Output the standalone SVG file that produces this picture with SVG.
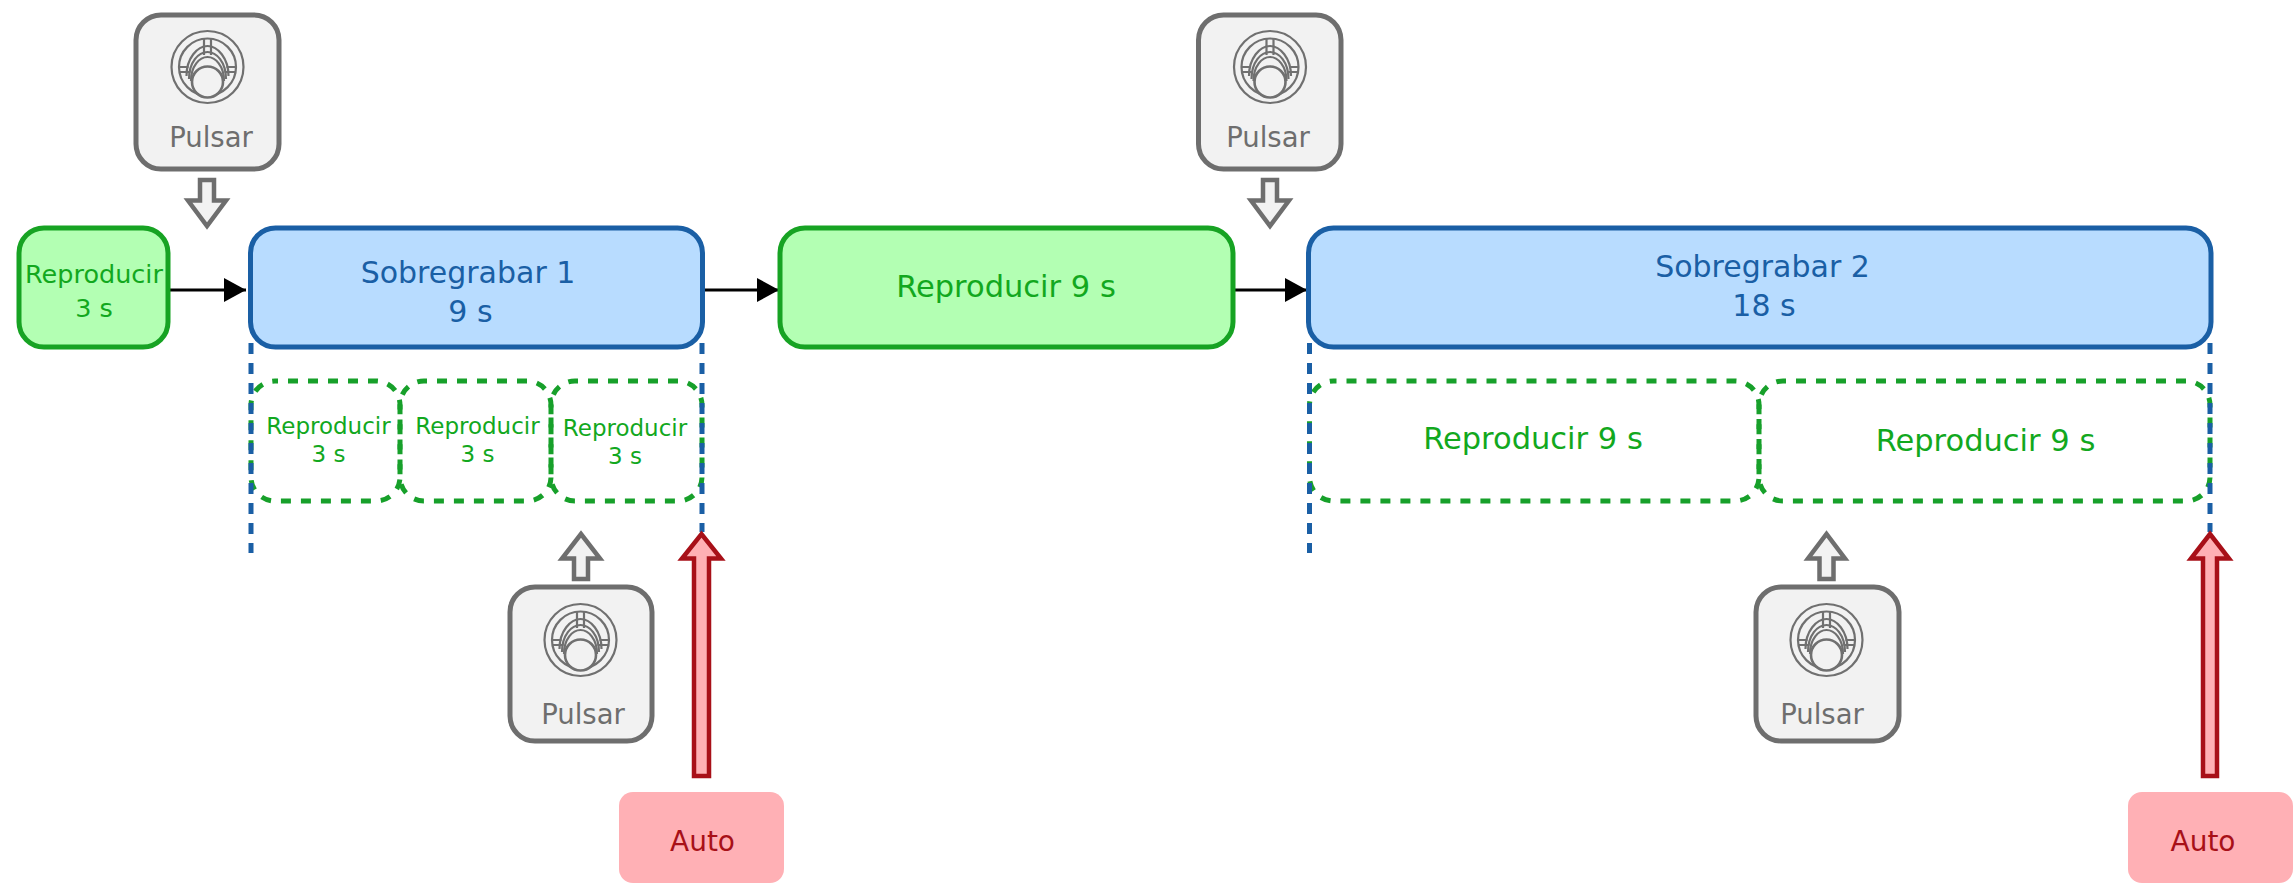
<svg xmlns="http://www.w3.org/2000/svg" width="2294" height="883" viewBox="0 0 2294 883">
<style>
text{font-family:"DejaVu Sans","Liberation Sans",sans-serif;text-anchor:middle}
.g{fill:#12a81e}.b{fill:#1a5fa5}
.pbox{fill:#f2f2f2;stroke:#6e6e6e;stroke-width:5}
.ptxt{fill:#6e6e6e;font-size:27.500px}
.gbox{fill:#b3ffb3;stroke:#17a323;stroke-width:5}
.bbox{fill:#b8dcff;stroke:#1a5fa5;stroke-width:5}
.dbox{fill:none;stroke:#17a02a;stroke-width:5;stroke-dasharray:10 10;stroke-dashoffset:-13}
.vd{stroke:#1a5fa5;stroke-width:5;stroke-dasharray:11 9;fill:none}
.garr{fill:#f2f2f2;stroke:#6e6e6e;stroke-width:4.500}
.rarr{fill:#ffb0b4;stroke:#a81018;stroke-width:4.500}
.auto{fill:#ffb0b5}
.atxt{fill:#a81018;font-size:28px}
.ln{stroke:#000;stroke-width:3;fill:none}
.ic{fill:none;stroke:#707070;stroke-width:2.200}
</style>
<defs>
<marker id="ah" markerUnits="userSpaceOnUse" markerWidth="24" markerHeight="26" refX="22" refY="12" orient="auto"><path d="M0 0L22 12L0 24Z" fill="#000"/></marker>
<g id="joy" class="ic">
<circle r="36"/><circle r="28.500"/>
<path d="M-21 9C-21-9-10-21 0-21S21-9 21 9"/>
<path d="M-18.500 12C-18.500-5-9-15 0-15S18.500-5 18.500 12"/>
<path d="M-16.500 14C-16.500-1-8-10 0-10S16.500-1 16.500 14"/>
<circle cy="15" r="15.500" fill="#f2f2f2" stroke-width="2.600"/>
<path d="M-3.500-28V-12M3.500-28V-12M-28 0H-19M-28 5H-17M28 0H19M28 5H17"/>
</g>
</defs>
<rect width="2294" height="883" fill="#fff"/>
<g id="segments">
<g id="seg1"><rect class="dbox" x="251" y="381" width="149" height="120" rx="24"/><text class="g" x="328.500" y="434" font-size="23">Reproducir</text><text class="g" x="328.500" y="462" font-size="23">3 s</text></g>
<g id="seg2"><rect class="dbox" x="400" y="381" width="151" height="120" rx="24"/><text class="g" x="477.500" y="434" font-size="23">Reproducir</text><text class="g" x="477.500" y="462" font-size="23">3 s</text></g>
<g id="seg3"><rect class="dbox" x="551" y="381" width="151" height="120" rx="24"/><text class="g" x="625" y="436" font-size="23">Reproducir</text><text class="g" x="625" y="464" font-size="23">3 s</text></g>
<g id="seg4"><rect class="dbox" x="1309.500" y="381" width="449.500" height="120" rx="24"/><text class="g" x="1533" y="449" font-size="30.500">Reproducir 9 s</text></g>
<g id="seg5"><rect class="dbox" x="1759" y="381" width="451" height="120" rx="24"/><text class="g" x="1985.500" y="451" font-size="30.500">Reproducir 9 s</text></g>
</g>
<g id="guides">
<path class="vd" d="M251 343V553"/>
<path class="vd" d="M702 343V532"/>
<path class="vd" d="M1309.500 343V553"/>
<path class="vd" d="M2210 343V532"/>
</g>
<g id="connectors">
<path class="ln" d="M170 290H246" marker-end="url(#ah)"/>
<path class="ln" d="M704 290H779" marker-end="url(#ah)"/>
<path class="ln" d="M1234 290H1307" marker-end="url(#ah)"/>
<path class="garr" d="M200 180H214V200.500H226L207 226L188 200.500H200Z"/>
<path class="garr" d="M1263 180H1277V200.500H1289L1270 226L1251 200.500H1263Z"/>
<path class="garr" d="M574 579H588V558.500H600L581 534L562 558.500H574Z"/>
<path class="garr" d="M1819.500 579H1833.500V558.500H1845L1826.500 534L1808 558.500H1819.500Z"/>
<path class="rarr" d="M694 776V558.500H682L701.500 534L721 558.500H709V776Z"/>
<path class="rarr" d="M2203 776V558.500H2191L2210 534L2229 558.500H2217V776Z"/>
</g>
<g id="play1"><rect class="gbox" x="19" y="228" width="149" height="119" rx="25"/><text class="g" x="94" y="283" font-size="25.500">Reproducir</text><text class="g" x="94" y="317" font-size="25.500">3 s</text></g>
<g id="over1"><rect class="bbox" x="250.500" y="228" width="452" height="119" rx="25"/><text class="b" x="468" y="283" font-size="30">Sobregrabar 1</text><text class="b" x="470.500" y="322" font-size="30">9 s</text></g>
<g id="play2"><rect class="gbox" x="780" y="228" width="453" height="119" rx="25"/><text class="g" x="1006" y="297" font-size="30.500">Reproducir 9 s</text></g>
<g id="over2"><rect class="bbox" x="1308.500" y="228" width="902.500" height="119" rx="25"/><text class="b" x="1762.500" y="277" font-size="30">Sobregrabar 2</text><text class="b" x="1764" y="316" font-size="30">18 s</text></g>
<g id="press1"><rect class="pbox" x="136" y="15" width="143" height="154" rx="25"/><use href="#joy" x="207.500" y="67"/><text class="ptxt" x="211" y="147">Pulsar</text></g>
<g id="press2"><rect class="pbox" x="1198.500" y="15" width="142.500" height="154" rx="25"/><use href="#joy" x="1270" y="67"/><text class="ptxt" x="1268" y="147">Pulsar</text></g>
<g id="press3"><rect class="pbox" x="510" y="587" width="142" height="154" rx="25"/><use href="#joy" x="580.500" y="640"/><text class="ptxt" x="583" y="724">Pulsar</text></g>
<g id="press4"><rect class="pbox" x="1756" y="587" width="143" height="154" rx="25"/><use href="#joy" x="1826.500" y="640"/><text class="ptxt" x="1822" y="724">Pulsar</text></g>
<g id="auto1"><rect class="auto" x="619" y="792" width="165" height="91" rx="14"/><text class="atxt" x="702.500" y="851">Auto</text></g>
<g id="auto2"><rect class="auto" x="2128" y="792" width="165" height="91" rx="14"/><text class="atxt" x="2203" y="851">Auto</text></g>
</svg>
